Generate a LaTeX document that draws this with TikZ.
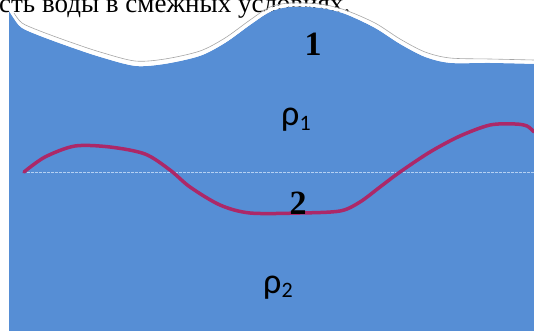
\documentclass[tikz,border=0pt]{standalone}
\usepackage{fontspec}
\setmainfont{Liberation Serif}
\newfontfamily\carlito{Carlito}
\definecolor{water}{RGB}{86,142,213}
\definecolor{iface}{RGB}{172,40,104}
\definecolor{level}{RGB}{180,208,242}

\begin{document}
\begin{tikzpicture}[x=1pt ,y=-1pt ,
num/.style ={ font=\fontsize{34}{34}\selectfont\bfseries , inner sep=0pt},
dens/.style ={ font=\carlito\fontsize{36}{36}\selectfont , inner sep=0pt}]
\useasboundingbox (0,0) rectangle (534,331);
\clip (0,0) rectangle (534,331);
% caption line, cut off at the top
\node[anchor=base west, inner sep=0pt, font=\fontsize{27}{27}\selectfont] (cap) at (-1,13)
  {сть воды в смежных условиях.};
% upper layer with free surface
\fill[water] plot[smooth] coordinates {(9,10) (14,18) (22,28) (40,36) (70,47) (100,57)
  (135,66) (165,64) (200,56) (225,43) (250,25) (270,12) (290,7) (320,8) (345,14)
  (375,28) (400,44) (425,57) (450,63) (490,63) (534,64)}
  -- (534,331) -- (9,331) -- cycle;
\draw[white, line width=3pt] plot[smooth] coordinates {(9,8) (14,16) (22,26) (40,34)
  (70,45) (100,55) (135,64) (165,62) (200,54) (225,41) (250,23) (270,10) (290,5)
  (320,6) (345,12) (375,26) (400,42) (425,55) (450,61) (490,61) (534,62)};
\draw[gray!70, line width=0.6pt] plot[smooth] coordinates {(14,13) (22,23) (40,31)
  (70,42) (100,52) (135,61) (165,59) (200,51) (225,38) (250,20) (270,7) (290,3)
  (320,4) (345,10) (375,23) (400,39) (425,52) (450,58) (490,59) (534,60)};
% undisturbed level
\draw[level, line width=1pt, dash pattern=on 3pt off 1pt] (27,172) -- (534,172);
% interface between the layers
\draw[iface, line width=3.5pt, line cap=round] plot[smooth] coordinates {(24,172)
  (45,157) (75,146) (110,147) (145,154) (170,170) (190,187) (220,205) (250,213)
  (300,213) (340,211) (360,202) (380,187) (400,172) (430,152) (460,136) (490,125)
  (515,124) (527,126) (534,132)};
\node[num] (one) at (313,44) {1};
\node[num] (two) at (298,203) {2};
\node[dens, anchor=base west] (rho1) at (281,126) {ρ\raisebox{-0.25ex}{\fontsize{22}{22}\selectfont 1}};
\node[dens, anchor=base west] (rho2) at (263,293) {ρ\raisebox{-0.25ex}{\fontsize{22}{22}\selectfont 2}};
\end{tikzpicture}
\end{document}
